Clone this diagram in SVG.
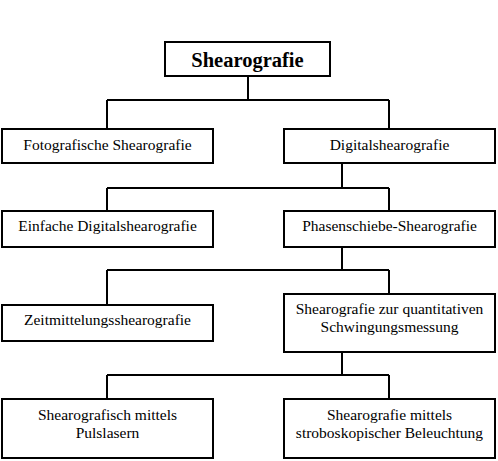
<svg xmlns="http://www.w3.org/2000/svg" width="498" height="461" viewBox="0 0 498 461">
<style>
.box{fill:#fff;stroke:#000;stroke-width:2}
.t{font-family:"Liberation Serif","Times New Roman",serif;font-size:15.5px;fill:#000;text-anchor:middle}
.title{font-family:"Liberation Serif","Times New Roman",serif;font-size:20.5px;font-weight:bold;fill:#000;text-anchor:middle}
.c{fill:none;stroke:#000;stroke-width:2}
</style>
<rect width="498" height="461" fill="#fff"/>
<g id="connectors">
<path class="c" d="M248 76V100M107 100H389M107 100V129M389 100V129"/>
<path class="c" d="M342 163V188M107 188H389M107 188V211M389 188V211"/>
<path class="c" d="M342 247V270M107 270H389M107 270V305M389 270V294"/>
<path class="c" d="M342 352V375M107 375H389M107 375V399M389 375V399"/>
</g>
<g id="n-root"><rect class="box" x="165" y="42" width="165" height="34"/><text class="title" x="247.5" y="66.5">Shearografie</text></g>
<g id="n-foto"><rect class="box" x="2" y="129" width="211" height="34"/><text class="t" x="107.5" y="150">Fotografische Shearografie</text></g>
<g id="n-digital"><rect class="box" x="284" y="129" width="211" height="34"/><text class="t" x="389.5" y="150">Digitalshearografie</text></g>
<g id="n-einfach"><rect class="box" x="2" y="211" width="211" height="36"/><text class="t" x="107.5" y="231">Einfache Digitalshearografie</text></g>
<g id="n-phasen"><rect class="box" x="284" y="211" width="211" height="36"/><text class="t" x="389.5" y="231">Phasenschiebe-Shearografie</text></g>
<g id="n-zeit"><rect class="box" x="2" y="305" width="211" height="36"/><text class="t" x="107.5" y="325">Zeitmittelungsshearografie</text></g>
<g id="n-quant"><rect class="box" x="284" y="294" width="211" height="58"/><text class="t" x="389.5" y="313.5">Shearografie zur quantitativen</text><text class="t" x="389.5" y="332">Schwingungsmessung</text></g>
<g id="n-puls"><rect class="box" x="2" y="399" width="211" height="59"/><text class="t" x="107.5" y="420">Shearografisch mittels</text><text class="t" x="107.5" y="437.5">Pulslasern</text></g>
<g id="n-strobo"><rect class="box" x="284" y="399" width="211" height="59"/><text class="t" x="389.5" y="420">Shearografie mittels</text><text class="t" x="389.5" y="437.5">stroboskopischer Beleuchtung</text></g>
</svg>
